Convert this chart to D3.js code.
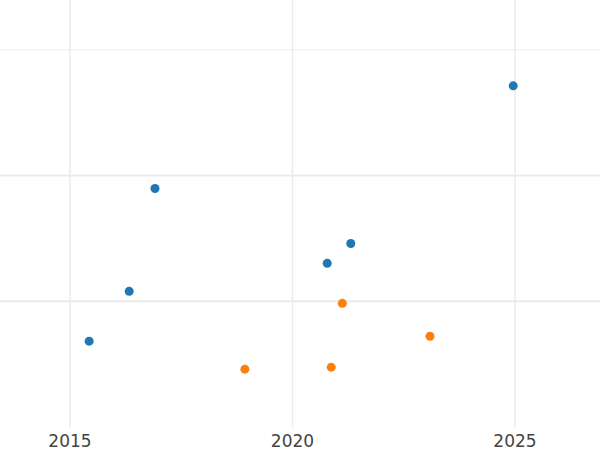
<!DOCTYPE html>
<html><head><meta charset="utf-8">
<script src="https://cdn.jsdelivr.net/npm/d3@7"></script>
<style>body{margin:0;background:#fff}</style>
</head><body><svg id="chart"></svg>
<script>
const blueX = [2015.43, 2016.33, 2016.91, 2020.78, 2021.31, 2024.96];
const blueY = [0.683, 1.079, 1.897, 1.302, 1.460, 2.714];
const orangeX = [2018.93, 2020.87, 2021.12, 2023.09];
const orangeY = [0.460, 0.476, 0.984, 0.722];
const xTicks = [2015, 2020, 2025];
const yTicks = [1, 2, 3];

const width = 600, height = 450, plotBottom = 427;
const svg = d3.select("#chart").attr("width", width).attr("height", height);

const x = d3.scaleLinear().domain([2013.427, 2026.91]).range([0, width]);
const y = d3.scaleLinear().domain([0, 3]).range([plotBottom, plotBottom - 3 * 125.7]);

svg.append("g").selectAll("line").data(xTicks).enter().append("line")
    .attr("x1", d => x(d)).attr("x2", d => x(d))
    .attr("y1", 0).attr("y2", plotBottom)
    .attr("stroke", "#ebebeb").attr("stroke-width", 1.5);

svg.append("g").selectAll("line").data(yTicks).enter().append("line")
    .attr("x1", 0).attr("x2", width)
    .attr("y1", d => y(d)).attr("y2", d => y(d))
    .attr("stroke", "#ebebeb").attr("stroke-width", d => d === 3 ? 1 : 2);

svg.append("g").selectAll("text").data(xTicks).enter().append("text")
    .attr("x", d => x(d)).attr("y", 447)
    .attr("text-anchor", "middle")
    .attr("font-family", "DejaVu Sans").attr("font-size", 17)
    .attr("fill", "#444").text(d => d);

function dots(xs, ys, color) {
    svg.append("g").selectAll("circle").data(xs).enter().append("circle")
        .attr("cx", d => x(d)).attr("cy", (d, i) => y(ys[i]))
        .attr("r", 4.5).attr("fill", color);
}
dots(blueX, blueY, "#1f77b4");
dots(orangeX, orangeY, "#ff7f0e");
</script></body></html>
